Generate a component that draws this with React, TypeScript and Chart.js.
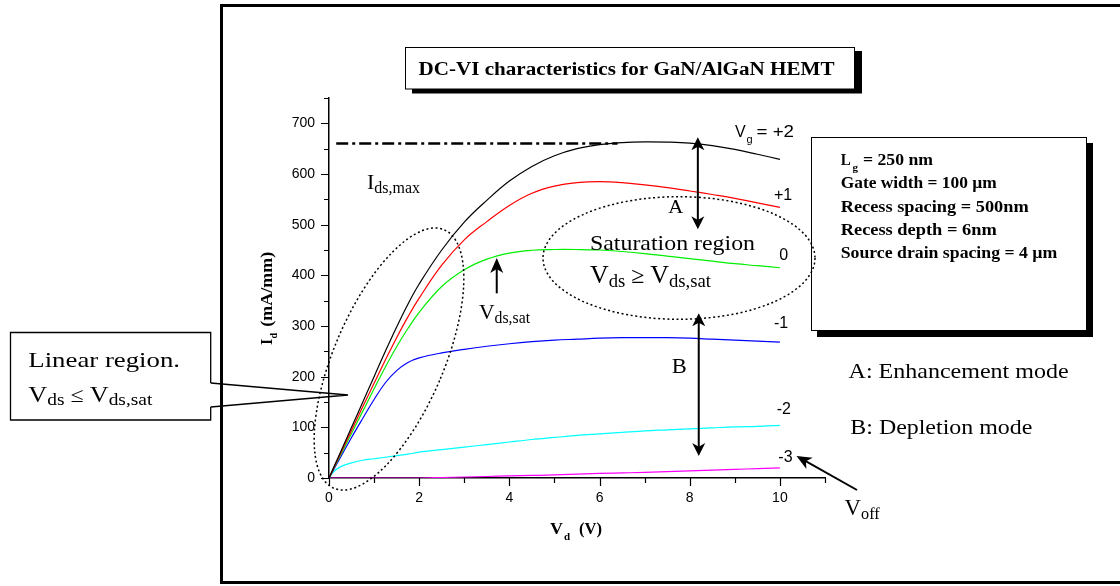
import React, { useEffect, useRef } from 'react';
import { Chart, registerables } from 'chart.js';

Chart.register(...registerables);

// ---------- data ----------
const drainVoltage = [0, 0.1, 0.25, 0.5, 0.75, 1, 1.25, 1.5, 1.75, 2, 2.5, 3, 3.5, 4, 4.5, 5, 5.5, 6, 6.5, 7, 7.5, 8, 8.5, 9, 9.5, 10];
const idVgPlus2 = [0, 20, 50, 100, 150, 200, 250, 298, 343, 383, 450, 505, 548, 586, 615, 636, 650, 658, 662, 663.5, 663, 661, 656, 648.5, 639, 629];
const idVgPlus1 = [0, 19, 47, 94, 141, 187, 233, 277, 318, 355, 420, 470, 506, 538, 562, 576, 583, 585, 583, 578.5, 573, 566.5, 559.5, 552, 543, 534];
const idVg0 = [0, 18, 44, 88, 132, 176, 219, 259, 295, 327, 378, 411, 432, 444, 449.5, 451, 451, 450, 447, 443, 438, 433, 428, 423, 419, 415];
const idVgMinus1 = [0, 16, 40, 80, 118, 155, 188, 212, 228, 237, 247, 254, 260, 265, 269, 272, 274, 276, 277, 277, 277, 276, 274, 272, 270, 268];
const idVgMinus2 = [0, 12, 22, 30, 35, 38, 41, 44, 47, 51, 56, 61, 66, 71, 76, 80, 84, 87, 90, 93, 95, 97, 99, 101, 102, 104];
const idVgMinus3 = [0, 0, 0, 0, 0, 0, 0, 0, 0, 0, 1, 2, 3, 4, 5, 6, 7.5, 9, 10, 11, 12.5, 14, 15.5, 17, 18.5, 20];
const gateLabels = ['+2', '+1', '0', '-1', '-2', '-3'];
const gateSeries = [idVgPlus2, idVgPlus1, idVg0, idVgMinus1, idVgMinus2, idVgMinus3];
const idsMax = 660;

const xTickValues = [0, 1, 2, 3, 4, 5, 6, 7, 8, 9, 10, 11];
const yTickValues = [0, 50, 100, 150, 200, 250, 300, 350, 400, 450, 500, 550, 600, 650, 700, 750];

const paramLines = ['Gate width = 100 µm', 'Recess spacing = 500nm', 'Recess depth = 6nm', 'Source drain spacing = 4 µm'];

// ---------- styles ----------
const colors = ['#000000', '#ff0000', '#00ee00', '#0000ff', '#00ffff', '#ff00ff'];
const SERIF = '"Liberation Serif", "Times New Roman", serif';
const SANS = '"Liberation Sans", Arial, sans-serif';

function txt(ctx: CanvasRenderingContext2D, s: string, x: number, y: number, size: number, o: { w?: number; bold?: boolean; fam?: string } = {}) {
  ctx.save();
  ctx.font = `${o.bold ? 'bold ' : ''}${size}px ${o.fam || SERIF}`;
  ctx.textAlign = 'left';
  ctx.textBaseline = 'alphabetic';
  ctx.fillStyle = '#000';
  const m = ctx.measureText(s).width;
  const sx = o.w ? o.w / m : 1;
  ctx.translate(x, y);
  ctx.scale(sx, 1);
  ctx.fillText(s, 0, 0);
  ctx.restore();
}

type Part = { t: string; size: number; dy?: number };
function rich(ctx: CanvasRenderingContext2D, parts: Part[], x: number, y: number, totalW: number) {
  ctx.save();
  ctx.fillStyle = '#000';
  ctx.textAlign = 'left';
  ctx.textBaseline = 'alphabetic';
  let nat = 0;
  const ws = parts.map((p) => {
    ctx.font = `${p.size}px ${SERIF}`;
    const w = ctx.measureText(p.t).width;
    nat += w;
    return w;
  });
  const sx = totalW / nat;
  ctx.translate(x, y);
  ctx.scale(sx, 1);
  let cx = 0;
  parts.forEach((p, i) => {
    ctx.font = `${p.size}px ${SERIF}`;
    ctx.fillText(p.t, cx, p.dy || 0);
    cx += ws[i];
  });
  ctx.restore();
}

function head(ctx: CanvasRenderingContext2D, tx: number, ty: number, ux: number, uy: number, len: number, hw: number) {
  const bx = tx - ux * len, by = ty - uy * len;
  const px = -uy, py = ux;
  const nx = tx - ux * len * 0.72, ny = ty - uy * len * 0.72;
  ctx.beginPath();
  ctx.moveTo(tx, ty);
  ctx.lineTo(bx + px * hw, by + py * hw);
  ctx.lineTo(nx, ny);
  ctx.lineTo(bx - px * hw, by - py * hw);
  ctx.closePath();
  ctx.fill();
}

function arrow(ctx: CanvasRenderingContext2D, x1: number, y1: number, x2: number, y2: number, both: boolean, len = 13, hw = 6, lw = 2) {
  const dx = x2 - x1, dy = y2 - y1, d = Math.hypot(dx, dy);
  const ux = dx / d, uy = dy / d;
  ctx.save();
  ctx.strokeStyle = '#000';
  ctx.fillStyle = '#000';
  ctx.lineWidth = lw;
  ctx.setLineDash([]);
  ctx.beginPath();
  const s = both ? len * 0.6 : 0;
  ctx.moveTo(x1 + ux * s, y1 + uy * s);
  ctx.lineTo(x2 - ux * len * 0.6, y2 - uy * len * 0.6);
  ctx.stroke();
  head(ctx, x2, y2, ux, uy, len, hw);
  if (both) head(ctx, x1, y1, -ux, -uy, len, hw);
  ctx.restore();
}

const annotations = {
  id: 'annotations',
  afterDraw(chart: any) {
    const ctx: CanvasRenderingContext2D = chart.ctx;
    const xs = chart.scales.x;
    const ys = chart.scales.y;
    const X = (v: number) => xs.getPixelForValue(v);
    const Y = (v: number) => ys.getPixelForValue(v);

    ctx.save();
    // tick marks
    ctx.strokeStyle = '#000';
    ctx.lineWidth = 1.2;
    ctx.beginPath();
    yTickValues.forEach((v) => {
      const y = Math.round(Y(v)) + 0.5;
      const len = v % 100 === 0 ? 8 : 5;
      ctx.moveTo(xs.left - len, y);
      ctx.lineTo(xs.left, y);
    });
    xTickValues.forEach((v) => {
      const x = Math.round(X(v)) + 0.5;
      const len = v % 2 === 0 ? 8 : 5;
      ctx.moveTo(x, ys.bottom);
      ctx.lineTo(x, ys.bottom + len);
    });
    ctx.stroke();

    // outer frame
    ctx.lineWidth = 3;
    ctx.strokeRect(221.5, 5.5, 1000, 577);

    // title box
    ctx.fillStyle = '#000';
    ctx.fillRect(412, 51, 450, 42.5);
    ctx.fillStyle = '#fff';
    ctx.fillRect(405, 47, 450, 42);
    ctx.lineWidth = 1;
    ctx.strokeRect(405.5, 47.5, 449, 41.5);
    txt(ctx, 'DC-VI characteristics for GaN/AlGaN HEMT', 418.5, 75, 18, { bold: true, w: 416 });

    // parameter box
    ctx.fillStyle = '#000';
    ctx.fillRect(817, 143, 276, 194);
    ctx.fillStyle = '#fff';
    ctx.fillRect(811, 137, 276, 194);
    ctx.strokeRect(811.5, 137.5, 275, 193);
    txt(ctx, 'L', 840.7, 165, 17, { bold: true, w: 10 });
    txt(ctx, 'g', 852.5, 171, 11, { bold: true });
    txt(ctx, '= 250 nm', 863, 165, 17, { bold: true, w: 70 });
    const pw = [156, 188, 156, 216.6];
    paramLines.forEach((s, i) => txt(ctx, s, 840.7, 188.3 + i * 23.3, 17, { bold: true, w: pw[i] }));

    // linear-region callout box
    ctx.fillStyle = '#fff';
    ctx.fillRect(10, 332, 200.7, 88);
    ctx.lineWidth = 1.3;
    ctx.beginPath();
    ctx.moveTo(210.7, 383);
    ctx.lineTo(210.7, 332.5);
    ctx.lineTo(10.5, 332.5);
    ctx.lineTo(10.5, 420);
    ctx.lineTo(210.7, 420);
    ctx.lineTo(210.7, 407);
    ctx.stroke();
    ctx.lineWidth = 1.6;
    ctx.beginPath();
    ctx.moveTo(210.7, 383);
    ctx.lineTo(348, 395);
    ctx.lineTo(210.7, 407);
    ctx.stroke();
    txt(ctx, 'Linear region.', 28.3, 367.3, 21, { w: 151.7 });
    rich(ctx, [
      { t: 'V', size: 23 },
      { t: 'ds', size: 17, dy: 3.5 },
      { t: ' ≤ ', size: 21 },
      { t: 'V', size: 23 },
      { t: 'ds,sat', size: 17, dy: 3.5 },
    ], 28.3, 401.7, 124);

    // dash-dot Ids,max line
    ctx.strokeStyle = '#000';
    ctx.lineWidth = 2.5;
    ctx.setLineDash([12, 4, 3, 4]);
    ctx.beginPath();
    ctx.moveTo(X(0.16), Y(idsMax));
    ctx.lineTo(X(6.4), Y(idsMax));
    ctx.stroke();

    // dotted ellipses
    ctx.lineWidth = 1.5;
    ctx.setLineDash([2, 2.6]);
    ctx.beginPath();
    ctx.ellipse(679, 258, 136, 61.3, 0, 0, Math.PI * 2);
    ctx.stroke();
    ctx.beginPath();
    ctx.ellipse(389, 359, 55, 140.5, (23.1 * Math.PI) / 180, 0, Math.PI * 2);
    ctx.stroke();
    ctx.setLineDash([]);

    // arrows
    arrow(ctx, X(8.18), Y(490.9), X(8.18), Y(672.4), true, 13, 6.5, 2);
    arrow(ctx, X(8.2), Y(43.4), X(8.2), Y(325), true, 13, 6.5, 2);
    arrow(ctx, X(3.72), Y(364.5), X(3.72), Y(434), false, 15, 6.5, 2);
    arrow(ctx, 857, 490, 796.5, 456, false, 15, 6.5, 2);

    // in-plot labels (serif)
    rich(ctx, [{ t: 'I', size: 22 }, { t: 'ds,max', size: 16, dy: 4.5 }], 367, 188.5, 53);
    rich(ctx, [{ t: 'V', size: 22 }, { t: 'ds,sat', size: 16, dy: 4 }], 479, 318.5, 51);
    txt(ctx, 'Saturation region', 590, 250, 22, { w: 165 });
    rich(ctx, [
      { t: 'V', size: 25 },
      { t: 'ds', size: 18, dy: 3.5 },
      { t: ' ≥ ', size: 23 },
      { t: 'V', size: 25 },
      { t: 'ds,sat', size: 18, dy: 4 },
    ], 590, 283, 121);
    txt(ctx, 'A', 668.3, 213.3, 19, { w: 15 });
    txt(ctx, 'B', 671.7, 373.3, 21, { w: 15 });
    txt(ctx, 'A: Enhancement mode', 848.6, 378, 21, { w: 220 });
    txt(ctx, 'B: Depletion mode', 850.3, 434, 21, { w: 182 });
    rich(ctx, [{ t: 'V', size: 24 }, { t: 'off', size: 17, dy: 3.5 }], 844.6, 515, 35);

    // curve labels (sans)
    txt(ctx, 'V', 735, 136.7, 16, { fam: SANS });
    txt(ctx, 'g', 746.5, 143, 11, { fam: SANS });
    txt(ctx, '= ' + gateLabels[0], 756.5, 136.7, 16, { fam: SANS, w: 37.5 });
    const gy = [200, 260, 328.3, 414, 461.7];
    const gx = [774, 779.3, 774, 776.7, 778.3];
    gateLabels.slice(1).forEach((g, i) => txt(ctx, g, gx[i], gy[i], 16, { fam: SANS }));

    // axis titles
    ctx.save();
    ctx.translate(272, 345);
    ctx.rotate(-Math.PI / 2);
    txt(ctx, 'I', 0, 0, 16, { bold: true });
    txt(ctx, 'd', 6.5, 4.5, 10, { bold: true });
    txt(ctx, '(mA/mm)', 18.3, 0, 16, { bold: true, w: 75 });
    ctx.restore();
    txt(ctx, 'V', 550, 534, 17, { bold: true, w: 13 });
    txt(ctx, 'd', 564, 539.5, 11, { bold: true });
    txt(ctx, '(V)', 579, 534, 17, { bold: true, w: 23 });

    ctx.restore();
  },
};

export default function App() {
  const ref = useRef<HTMLCanvasElement>(null);
  useEffect(() => {
    if (!ref.current) return;
    const datasets = gateSeries.map((ser, i) => ({
      label: 'Vg = ' + gateLabels[i],
      data: ser.map((y, j) => ({ x: drainVoltage[j], y })),
      borderColor: colors[i],
      backgroundColor: colors[i],
      borderWidth: 1.2,
      pointRadius: 0,
      fill: false,
      tension: 0.4,
      cubicInterpolationMode: i >= 4 ? ('monotone' as const) : ('default' as const),
    }));
    const chart = new Chart(ref.current, {
      type: 'line',
      data: { datasets },
      options: {
        animation: false,
        responsive: false,
        devicePixelRatio: 1,
        events: [],
        layout: { padding: { left: 0, top: 98, right: 295, bottom: 0 } },
        plugins: { legend: { display: false }, tooltip: { enabled: false }, title: { display: false } },
        scales: {
          x: {
            type: 'linear',
            min: 0,
            max: 11,
            afterFit: (s: any) => { s.height = 108; },
            grid: { display: false, drawTicks: false },
            border: { display: true, color: '#000', width: 1.5 },
            ticks: {
              stepSize: 1,
              autoSkip: false,
              maxRotation: 0,
              padding: 12,
              color: '#000',
              font: { family: SANS, size: 14 },
              callback: (v: any) => (Number(v) % 2 === 0 && Number(v) <= 10 ? String(v) : ''),
            },
          },
          y: {
            type: 'linear',
            min: 0,
            max: 750,
            afterFit: (s: any) => { s.width = 329; },
            grid: { display: false, drawTicks: false },
            border: { display: true, color: '#000', width: 1.5 },
            ticks: {
              stepSize: 50,
              autoSkip: false,
              padding: 14,
              color: '#000',
              font: { family: SANS, size: 14 },
              callback: (v: any) => (Number(v) % 100 === 0 && Number(v) <= 700 ? String(v) : ''),
            },
          },
        },
      },
      plugins: [annotations],
    });
    return () => chart.destroy();
  }, []);
  return (
    <div style={{ position: 'absolute', left: 0, top: 0, width: 1120, height: 586, background: '#fff' }}>
      <canvas ref={ref} width={1120} height={586} style={{ display: 'block' }} />
    </div>
  );
}
